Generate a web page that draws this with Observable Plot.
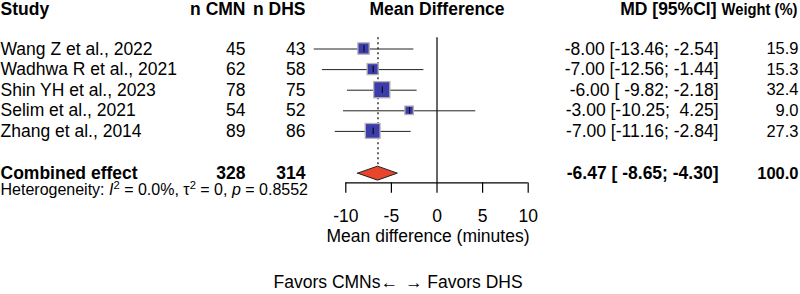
<!DOCTYPE html>
<html><head><meta charset="utf-8">
<script src="https://cdn.jsdelivr.net/npm/d3@7"></script>
<script src="https://cdn.jsdelivr.net/npm/@observablehq/plot@0.6"></script>
<style>
body{margin:0;background:#fff;}
svg text{white-space:pre;}
</style></head><body><div id="chart"></div>
<script>
// ---- data ----
const studies = ["Wang Z et al., 2022", "Wadhwa R et al., 2021", "Shin YH et al., 2023", "Selim et al., 2021", "Zhang et al., 2014"];
const nCMN = [45, 62, 78, 54, 89];
const nDHS = [43, 58, 75, 52, 86];
const md = [-8.00, -7.00, -6.00, -3.00, -7.00];
const lower = [-13.46, -12.56, -9.82, -10.25, -11.16];
const upper = [-2.54, -1.44, -2.18, 4.25, -2.84];
const weight = [15.9, 15.3, 32.4, 9.0, 27.3];
const pooledLabel = "Combined effect";
const totalCMN = 328, totalDHS = 314;
const pooledMD = -6.47, pooledLower = -8.65, pooledUpper = -4.30, pooledWeight = 100.0;
const hetI2 = "0.0%", hetTau2 = "0", hetP = "0.8552";
const headers = ["Study", "n CMN", "n DHS", "Mean Difference", "MD [95%CI]", "Weight (%)"];
const xTicks = [-10, -5, 0, 5, 10];
const xLabel = "Mean difference (minutes)";
const favorsLeft = "Favors CMNs\u2190", favorsRight = "\u2192 Favors DHS";

// ---- layout ----
const X_RANGE = [345.3, 527.7], Y_RANGE = [48.5, 130.9];
const PX_PER_X = (X_RANGE[1] - X_RANGE[0]) / 20, PX_PER_ROW = (Y_RANGE[1] - Y_RANGE[0]) / 4;
const ROW_HEADER = -1.92, ROW_COMB = 6.05, ROW_HET = 6.84, AXIS_ROW = 6.5, TOP_ROW = -0.55;
const FS = 17.5;
const FONT = "'Liberation Sans', Arial, sans-serif";
const fmtCI = (m, lo, hi) => `${m.toFixed(2)} [${lo.toFixed(2).padStart(6)}; ${hi.toFixed(2).padStart(5)}]`;
const halfSide = w => 1.42 * Math.sqrt(w); // px, square area proportional to weight

const rows = studies.map((s, i) => ({i, study: s, nC: nCMN[i], nD: nDHS[i], md: md[i], lo: lower[i], hi: upper[i], w: weight[i]}));
const diamond = [
  {x: pooledLower, y1: ROW_COMB, y2: ROW_COMB},
  {x: pooledMD, y1: ROW_COMB + 0.34, y2: ROW_COMB - 0.34},
  {x: pooledUpper, y1: ROW_COMB, y2: ROW_COMB}
];

const hdr = (t, dx, anchor, size = FS) => Plot.text([t], {text: d => d, y: ROW_HEADER, frameAnchor: "left", dx, textAnchor: anchor, fontWeight: "bold", fontSize: size});
const col = (field, dx, anchor, size = FS) => Plot.text(rows, {text: field, y: "i", frameAnchor: "left", dx, textAnchor: anchor, fontSize: size});
const comb = (t, dx, anchor, size = FS) => Plot.text([t], {text: d => d, y: ROW_COMB, frameAnchor: "left", dx, textAnchor: anchor, fontWeight: "bold", fontSize: size});

const chart = Plot.plot({
  width: 800, height: 294,
  marginTop: 0, marginBottom: 0, marginLeft: 0, marginRight: 0,
  style: {fontFamily: FONT, fontSize: FS + "px", background: "#fff", color: "#000"},
  x: {domain: [-10, 10], range: X_RANGE, axis: null},
  y: {domain: [0, 4], range: Y_RANGE, axis: null},
  marks: [
    // headers
    hdr(headers[0], 0, "start"),
    hdr(headers[1], 245, "end"),
    hdr(headers[2], 305, "end"),
    Plot.text([headers[3]], {text: d => d, x: 0, y: ROW_HEADER, fontWeight: "bold", fontSize: FS}),
    hdr(headers[4], 716, "end"),
    hdr(headers[5], 797, "end", 17),
    // study columns
    col("study", 0, "start"),
    col("nC", 245, "end"),
    col("nD", 305, "end"),
    col(d => fmtCI(d.md, d.lo, d.hi), 718, "end"),
    col(d => d.w.toFixed(1), 798, "end", 16.5),
    // combined row
    comb(pooledLabel, 0, "start"),
    comb(String(totalCMN), 245, "end"),
    comb(String(totalDHS), 305, "end"),
    comb(fmtCI(pooledMD, pooledLower, pooledUpper), 718, "end"),
    comb(pooledWeight.toFixed(1), 798, "end", 16.5),
    // heterogeneity
    Plot.text([`Heterogeneity: I2 = ${hetI2}, \u03c42 = ${hetTau2}, p = ${hetP}`], {text: d => d, y: ROW_HET, frameAnchor: "left", dx: 0, textAnchor: "start", fontSize: 16}),
    // reference lines
    Plot.ruleX([0], {x: d => d, y1: TOP_ROW, y2: AXIS_ROW, stroke: "#000", strokeWidth: 1.2}),
    Plot.ruleX([pooledMD], {x: d => d, y1: TOP_ROW, y2: ROW_COMB - 0.34, stroke: "#000", strokeWidth: 1.2, strokeDasharray: "2,3"}),
    // whiskers, squares, center ticks
    Plot.ruleY(rows, {y: "i", x1: "lo", x2: "hi", stroke: "#222", strokeWidth: 1}),
    Plot.rect(rows, {
      x1: d => d.md - halfSide(d.w) / PX_PER_X, x2: d => d.md + halfSide(d.w) / PX_PER_X,
      y1: d => d.i - halfSide(d.w) / PX_PER_ROW, y2: d => d.i + halfSide(d.w) / PX_PER_ROW,
      fill: "#3c3caa", stroke: "#b4b4b4", strokeWidth: 1.3
    }),
    Plot.ruleX(rows, {x: "md", y1: d => d.i - 0.16, y2: d => d.i + 0.16, stroke: "#000", strokeWidth: 1}),
    // diamond
    Plot.areaY(diamond, {x: "x", y1: "y1", y2: "y2", fill: "#e8452c", stroke: "#222", strokeWidth: 1, curve: "linear"}),
    // axis
    Plot.ruleY([AXIS_ROW], {y: d => d, x1: -10, x2: 10, stroke: "#000", strokeWidth: 1.2}),
    Plot.ruleX(xTicks, {x: d => d, y1: AXIS_ROW, y2: AXIS_ROW + 0.5, stroke: "#000", strokeWidth: 1.2}),
    Plot.text(xTicks, {x: d => d, y: AXIS_ROW, dy: 33, text: d => String(d), fontSize: FS}),
    Plot.text([xLabel], {x: 0, y: AXIS_ROW, dy: 53, dx: -9, text: d => d, fontSize: FS}),
    Plot.text([favorsLeft], {x: 0, y: AXIS_ROW, dy: 99, dx: -39, text: d => d, textAnchor: "end", fontSize: FS}),
    Plot.text([favorsRight], {x: 0, y: AXIS_ROW, dy: 99, dx: -32, text: d => d, textAnchor: "start", fontSize: FS})
  ]
});
document.getElementById("chart").appendChild(chart);

d3.select(chart).selectAll("text").each(function() {
  const t = d3.select(this);
  const s0 = t.text();
  // the Weight header is set narrower in the reference
  if (s0 === headers[5]) t.attr("textLength", 76).attr("lengthAdjust", "spacingAndGlyphs");
  // rich formatting for heterogeneity line (italics + superscripts)
  if (!s0.startsWith("Heterogeneity")) return;
  t.text(null);
  const parts = [
    ["Heterogeneity: ", null], ["I", "it"], ["2", "sup"], [` = ${hetI2}, \u03c4`, null], ["2", "sup"],
    [` = ${hetTau2}, `, null], ["p", "it"], [` = ${hetP}`, null]
  ];
  for (const [s, k] of parts) {
    const sp = t.append("tspan").text(s);
    if (k === "it") sp.attr("font-style", "italic");
    if (k === "sup") sp.attr("baseline-shift", "super").attr("font-size", "0.7em");
  }
});
</script></body></html>
